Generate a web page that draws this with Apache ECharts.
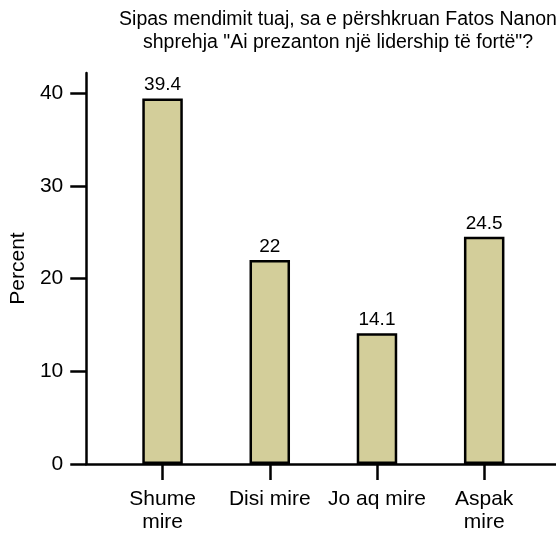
<!DOCTYPE html>
<html>
<head>
<meta charset="utf-8">
<script src="https://cdn.jsdelivr.net/npm/echarts@6/dist/echarts.min.js"></script>
<style>
  html, body { margin: 0; padding: 0; background: #fff; }
  #chart { width: 556px; height: 537px; }
</style>
</head>
<body>
<div id="chart"></div>
<script>
  // kategorite dhe perqindjet
  const categories = ['Shume\nmire', 'Disi mire', 'Jo aq mire', 'Aspak\nmire'];
  const percents = [39.4, 22, 14.1, 24.5];
  const yTicks = [0, 10, 20, 30, 40];

  const positions = categories.map((c, i) => i + 1);
  const barData = percents.map((v, i) => [positions[i], v]);

  const font = 'Liberation Sans, Arial, sans-serif';
  let myChart = echarts.init(document.getElementById('chart'));
  let option = {
    animation: false,
    title: {
      text: 'Sipas mendimit tuaj, sa e përshkruan Fatos Nanon\nshprehja "Ai prezanton një lidership të fortë"?',
      left: 333,
      top: 3,
      textAlign: 'center',
      textStyle: {
        fontFamily: font,
        fontSize: 19.5,
        fontWeight: 'normal',
        color: '#000',
        lineHeight: 23
      }
    },
    grid: {
      left: 85,
      right: 0,
      top: 73,
      bottom: 73
    },
    xAxis: {
      type: 'value',
      min: 0.2884,
      max: 4.6698,
      splitLine: {show: false},
      axisLine: {lineStyle: {color: '#000', width: 2.5}},
      axisTick: {
        customValues: positions,
        length: 16,
        lineStyle: {color: '#000', width: 2.5}
      },
      axisLabel: {
        customValues: positions,
        margin: 24,
        fontFamily: font,
        fontSize: 21,
        lineHeight: 23,
        color: '#000',
        formatter: v => categories[Math.round(v) - 1] || ''
      }
    },
    yAxis: {
      type: 'value',
      min: 0,
      max: 42.16,
      name: 'Percent',
      nameLocation: 'middle',
      nameRotate: 90,
      nameGap: 53,
      nameTextStyle: {fontFamily: font, fontSize: 21, color: '#000'},
      splitLine: {show: false},
      axisLine: {show: true, lineStyle: {color: '#000', width: 2.5}},
      axisTick: {
        show: true,
        customValues: yTicks,
        length: 16,
        lineStyle: {color: '#000', width: 2.5}
      },
      axisLabel: {
        customValues: yTicks,
        margin: 23,
        fontFamily: font,
        fontSize: 21,
        color: '#000'
      }
    },
    series: [{
      type: 'bar',
      data: barData,
      barWidth: 40.5,
      itemStyle: {
        color: '#d3ce9a',
        borderColor: '#000',
        borderWidth: 2.5
      },
      label: {
        show: true,
        position: 'top',
        distance: 4,
        fontFamily: font,
        fontSize: 19,
        color: '#000',
        formatter: p => p.value[1]
      }
    }]
  };
  myChart.setOption(option);
</script>
</body>
</html>
